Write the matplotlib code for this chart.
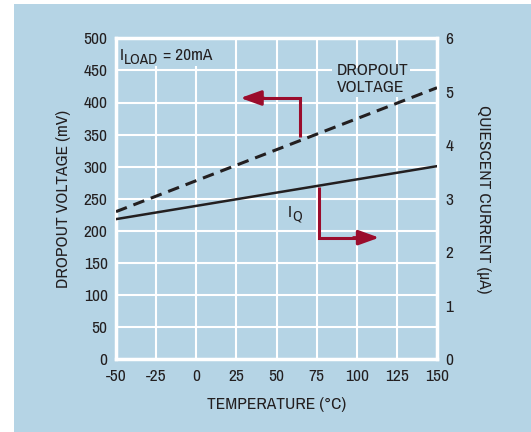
import matplotlib
matplotlib.use("Agg")
import matplotlib.pyplot as plt
from matplotlib import font_manager as fm
from matplotlib.patches import Rectangle

# pick a narrow font if one is installed
_narrow = [f.name for f in fm.fontManager.ttflist
           if ('Narrow' in f.name or 'Condensed' in f.name)]
BASE = _narrow[0] if _narrow else 'Liberation Sans'
FONT = [BASE, 'DejaVu Sans']
plt.rcParams['font.family'] = FONT
plt.rcParams['axes.unicode_minus'] = False

# data
temperature = [-50, 150]
dropout_mv = [230, 423]
iq_ua = [2.62, 3.61]
x_ticks = [-50, -25, 0, 25, 50, 75, 100, 125, 150]
left_ticks = [0, 50, 100, 150, 200, 250, 300, 350, 400, 450, 500]
right_ticks = [0, 1, 2, 3, 4, 5, 6]

BLUE = '#b5d4e5'
RED = '#9b0c2c'
TXT = '#231f20'
W, H = 531, 432

TICK_FS = 12.5
LAB_FS = 12.5
ANN_FS = 12.5
SUB_FS = 11

fig = plt.figure(figsize=(W/100, H/100), dpi=100, facecolor='white')
fig.patches.append(Rectangle((13.5/W, 0), 1, (H-4)/H, transform=fig.transFigure,
                             facecolor=BLUE, edgecolor='none', zorder=-10))

ax = fig.add_axes([116/W, 1-359.3/H, (437-116)/W, (359.3-38.3)/H])
ax.set_facecolor(BLUE)
ax.set_xlim(-50, 150)
ax.set_ylim(0, 500)
ax.set_xticks(x_ticks)
ax.set_yticks(left_ticks)
ax.grid(True, color='white', lw=1.5)
ax.set_axisbelow(True)
for s in ax.spines.values():
    s.set_color('white')
    s.set_linewidth(2.5)
ax.tick_params(length=0, labelsize=TICK_FS, colors=TXT, pad=6)
ax.tick_params(axis='x', pad=7)

ax2 = ax.twinx()
ax2.set_ylim(0, 6)
ax2.set_yticks(right_ticks)
ax2.tick_params(length=0, labelsize=TICK_FS, colors=TXT, pad=6)
for s in ax2.spines.values():
    s.set_visible(False)

ax.plot(temperature, dropout_mv, color=TXT, lw=2.2, dashes=(3.8, 2.3), zorder=3)
ax2.plot(temperature, iq_ua, color=TXT, lw=1.8, zorder=3)

ax.set_xlabel('TEMPERATURE (°C)', fontsize=LAB_FS, color=TXT, labelpad=9)
ax.set_ylabel('DROPOUT VOLTAGE (mV)', fontsize=LAB_FS, color=TXT, labelpad=9)
ax2.set_ylabel('QUIESCENT CURRENT (µA)', fontsize=LAB_FS, color=TXT, rotation=-90,
               labelpad=27)

# background patches that break the grid behind labels
for (x0, x1, y0, y1) in [(-48.5, 9, 457, 497), (84.6, 133, 408, 453), (52.8, 68.4, 212, 240)]:
    ax.add_patch(Rectangle((x0, y0), x1 - x0, y1 - y0, facecolor=BLUE,
                           edgecolor='none', zorder=1.5))


def sub_label(x, y, main, sub, rest=''):
    t1 = ax.text(x, y, main, fontsize=ANN_FS, color=TXT, ha='left',
                 va='baseline', zorder=4)
    t2 = ax.annotate(sub, xy=(1, y), xycoords=(t1, 'data'), xytext=(0.3, -2.5),
                     textcoords='offset points', fontsize=SUB_FS, color=TXT,
                     ha='left', va='baseline', zorder=4, annotation_clip=False)
    if rest:
        ax.annotate(rest, xy=(1, y), xycoords=(t2, 'data'), xytext=(0.5, 0),
                    textcoords='offset points', fontsize=ANN_FS, color=TXT,
                    ha='left', va='baseline', zorder=4, annotation_clip=False)


sub_label(-47.8, 466, 'I', 'LOAD', ' = 20mA')
ax.text(87.7, 437, 'DROPOUT\nVOLTAGE', fontsize=ANN_FS, color=TXT, ha='left',
        va='center', linespacing=1.2, zorder=4)
sub_label(57.0, 222, 'I', 'Q')

# arrows
AS = '-|>,head_length=1.25,head_width=0.45'
ax.plot([64.5, 64.5, 40], [346, 407, 407], color=RED, lw=2.2, zorder=5,
        solid_joinstyle='miter', solid_capstyle='butt')
ax.annotate('', xy=(27.5, 407), xytext=(42, 407),
            arrowprops=dict(arrowstyle=AS, color=RED, lw=2.2, shrinkA=0, shrinkB=0),
            zorder=5)
ax.plot([76.5, 76.5, 100], [269, 189.5, 189.5], color=RED, lw=2.2, zorder=5,
        solid_joinstyle='miter', solid_capstyle='butt')
ax.annotate('', xy=(114, 189.5), xytext=(98, 189.5),
            arrowprops=dict(arrowstyle=AS, color=RED, lw=2.2, shrinkA=0, shrinkB=0),
            zorder=5)

fig.savefig('out.png', dpi=100, facecolor='white')
